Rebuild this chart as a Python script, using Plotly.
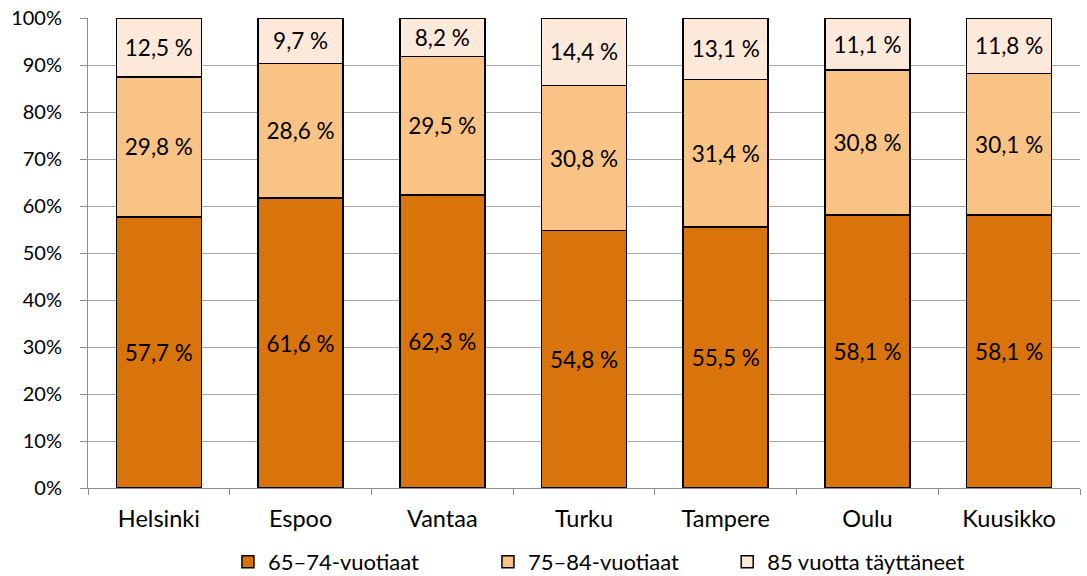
import plotly.graph_objects as go

cities = ["Helsinki", "Espoo", "Vantaa", "Turku", "Tampere", "Oulu", "Kuusikko"]
age_65_74 = [57.7, 61.6, 62.3, 54.8, 55.5, 58.1, 58.1]
age_75_84 = [29.8, 28.6, 29.5, 30.8, 31.4, 30.8, 30.1]
age_85 = [12.5, 9.7, 8.2, 14.4, 13.1, 11.1, 11.8]
series_names = ["65–74-vuotiaat", "75–84-vuotiaat", "85 vuotta täyttäneet"]
colors = ["#D9730B", "#F8C384", "#FDE9DA"]
y_ticks = [0, 10, 20, 30, 40, 50, 60, 70, 80, 90, 100]

font_family = "Lato, 'Open Sans', sans-serif"
legend_ids = ["legend", "legend2", "legend3"]
legend_x = [0.2097, 0.4489, 0.6690]

def fmt(v):
    return f"{v:.1f}".replace(".", ",") + " %"

fig = go.Figure()
for name, vals, col, lid in zip(series_names, [age_65_74, age_75_84, age_85], colors, legend_ids):
    fig.add_trace(go.Bar(
        x=cities, y=vals, name=name, legend=lid,
        marker=dict(color=col, line=dict(color="#000000", width=1.5)),
        text=[fmt(v) for v in vals], textposition="inside", insidetextanchor="middle",
        textfont=dict(size=22.5, color="#000000", family=font_family),
        texttemplate="%{text}", constraintext="none",
    ))

legend_common = dict(orientation="h", xref="container", yref="container",
                     xanchor="left", y=0.0243, yanchor="middle",
                     font=dict(size=22), itemwidth=30, bgcolor="rgba(0,0,0,0)")

fig.update_layout(
    barmode="stack", barnorm="percent", bargap=0.4,
    width=1087, height=576,
    margin=dict(l=88, r=7, t=18, b=88),
    plot_bgcolor="white", paper_bgcolor="white",
    font=dict(family=font_family, size=20, color="#000000"),
    uniformtext=dict(mode=False),
    legend=dict(x=legend_x[0], **legend_common),
    legend2=dict(x=legend_x[1], **legend_common),
    legend3=dict(x=legend_x[2], **legend_common),
    showlegend=True,
)
fig.update_xaxes(
    showline=True, linecolor="#8C8C8C", linewidth=1, automargin=False,
    ticks="outside", tickson="boundaries", ticklen=6, tickcolor="#8C8C8C",
    tickfont=dict(size=23.5), showgrid=False, ticklabelstandoff=10,
)
fig.update_yaxes(
    range=[0, 100], tickvals=y_ticks, ticktext=[f"{v}%" for v in y_ticks],
    showgrid=True, gridcolor="#A6A6A6", gridwidth=1, automargin=False,
    showline=True, linecolor="#8C8C8C", linewidth=1,
    ticks="outside", ticklen=7, tickcolor="#8C8C8C",
    tickfont=dict(size=20), zeroline=False, ticklabelstandoff=14,
    ticklabeloverflow="allow",
)

fig.write_html("out.html", config={"displayModeBar": False},
               post_script="document.body.style.margin='0';")
